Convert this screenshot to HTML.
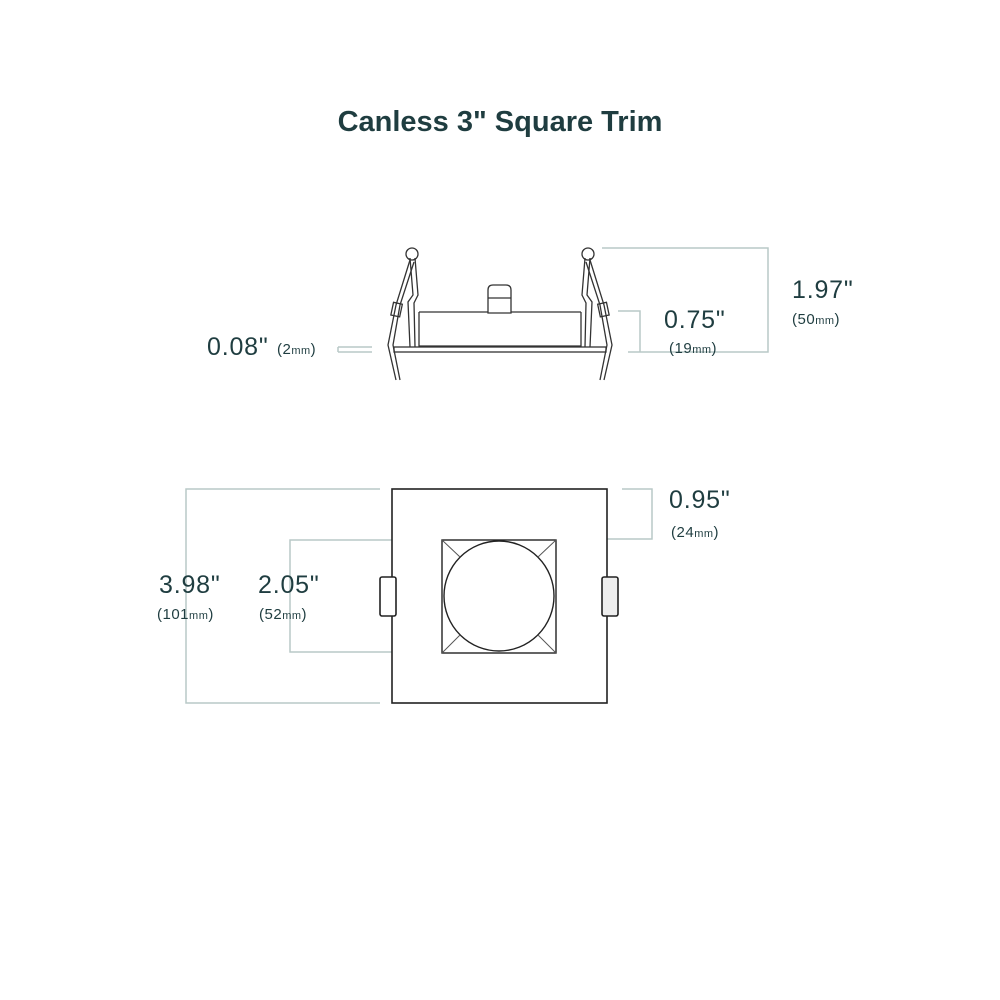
<!DOCTYPE html>
<html><head><meta charset="utf-8"><style>
html,body{margin:0;padding:0;background:#fff;}
svg{display:block}
text{font-family:"Liberation Sans",sans-serif;fill:#1f3d40}
.n{font-size:25px;letter-spacing:0.8px}
.m{font-size:15px;letter-spacing:0.5px}
.m tspan{font-size:11px}
</style></head><body>
<svg width="1000" height="1000" viewBox="0 0 1000 1000">
<text x="500" y="131" text-anchor="middle" font-size="29" font-weight="bold">Canless 3" Square Trim</text>

<g stroke="#b9c9c7" stroke-width="1.5" fill="none">
  <polyline points="602,248 768,248 768,352 628,352"/>
  <polyline points="618,311 640,311 640,352"/>
  <line x1="338" y1="347" x2="372" y2="347"/>
  <line x1="338" y1="352" x2="372" y2="352"/>
  <line x1="338" y1="347" x2="338" y2="352"/>
  <polyline points="380,489 186,489 186,703 380,703"/>
  <polyline points="437,540 290,540 290,652 437,652"/>
  <polyline points="622,489 652,489 652,539 566,539"/>
</g>

<g stroke="#333" stroke-width="1.3" fill="none">
  <rect x="394" y="347" width="212" height="5" fill="#fff"/>
  <line x1="419" y1="312" x2="581" y2="312"/>
  <line x1="419" y1="346" x2="581" y2="346"/>
  <line x1="419" y1="312" x2="419" y2="347"/>
  <line x1="581" y1="312" x2="581" y2="347"/>
  <path d="M488,313 V290 Q488,285 493,285 H506 Q511,285 511,290 V313 Z" fill="#fff"/>
  <line x1="488" y1="298" x2="511" y2="298"/>
  <circle cx="412" cy="254" r="6"/>
  <path d="M410,258 L413,295 L408,302 L410,347 M415,258 L418,295 L414,303 L415,347"/>
  <path d="M410,260 L396,305 L388,345 L396,380 M414,262 L400,305 L393,345 L400,380"/>
  <rect x="392" y="303" width="9" height="13" transform="rotate(12 396 310)"/>
  <circle cx="588" cy="254" r="6"/>
  <path d="M590,258 L587,295 L592,302 L590,347 M585,258 L582,295 L586,303 L585,347"/>
  <path d="M590,260 L604,305 L612,345 L604,380 M586,262 L600,305 L607,345 L600,380"/>
  <rect x="599" y="303" width="9" height="13" transform="rotate(-12 604 310)"/>
</g>

<g stroke="#222" stroke-width="1.6" fill="#fff">
  <rect x="392" y="489" width="215" height="214"/>
  <rect x="380" y="577" width="16" height="39" rx="2"/>
  <rect x="602" y="577" width="16" height="39" rx="2" fill="#eee"/>
  <rect x="442" y="540" width="114" height="113" stroke-width="1.4"/>
  <circle cx="499" cy="596" r="55" stroke-width="1.4"/>
</g>
<g stroke="#555" stroke-width="1">
  <line x1="442" y1="540" x2="460" y2="557"/>
  <line x1="556" y1="540" x2="538" y2="557"/>
  <line x1="442" y1="653" x2="460" y2="635"/>
  <line x1="556" y1="653" x2="538" y2="635"/>
</g>

<text x="207" y="355" class="n">0.08"</text>
<text x="277" y="354" class="m">(2<tspan>mm</tspan>)</text>
<text x="664" y="328" class="n">0.75"</text>
<text x="669" y="353" class="m">(19<tspan>mm</tspan>)</text>
<text x="792" y="298" class="n">1.97"</text>
<text x="792" y="324" class="m">(50<tspan>mm</tspan>)</text>
<text x="669" y="508" class="n">0.95"</text>
<text x="671" y="537" class="m">(24<tspan>mm</tspan>)</text>
<text x="159" y="593" class="n">3.98"</text>
<text x="157" y="619" class="m">(101<tspan>mm</tspan>)</text>
<text x="258" y="593" class="n">2.05"</text>
<text x="259" y="619" class="m">(52<tspan>mm</tspan>)</text>
</svg>
</body></html>
